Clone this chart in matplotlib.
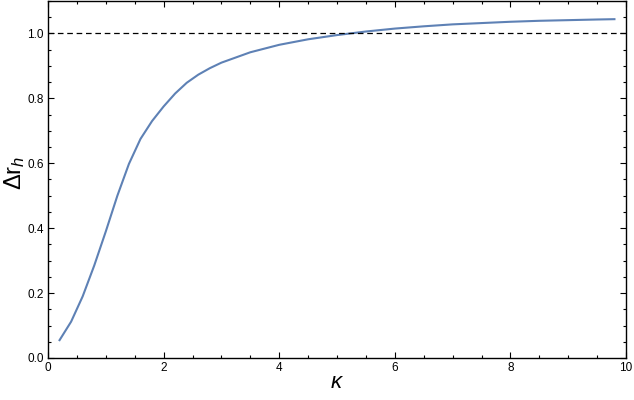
import numpy as np
import matplotlib.pyplot as plt
from matplotlib.ticker import MultipleLocator

# curve
kappa = [0.2, 0.4, 0.6, 0.8, 1.0, 1.2, 1.4, 1.6, 1.8, 2.0, 2.2, 2.4, 2.6, 2.8,
         3.0, 3.5, 4.0, 4.5, 5.0, 5.5, 6.0, 6.5, 7.0, 7.5, 8.0, 8.5, 9.0, 9.5, 9.8]
delta_rh = [0.055, 0.112, 0.19, 0.285, 0.39, 0.5, 0.598, 0.675, 0.73, 0.775,
            0.815, 0.848, 0.873, 0.893, 0.91, 0.942, 0.965, 0.982, 0.995, 1.006,
            1.015, 1.022, 1.028, 1.032, 1.036, 1.039, 1.041, 1.043, 1.044]
ref_level = 1.0

plt.rcParams['font.family'] = ['Liberation Sans', 'DejaVu Sans']
plt.rcParams['mathtext.fontset'] = 'custom'
plt.rcParams['mathtext.rm'] = 'Liberation Sans'
plt.rcParams['mathtext.it'] = 'Liberation Sans:italic'

fig = plt.figure(figsize=(6.34, 4.0), dpi=100)
ax = fig.add_axes([48 / 634, 42 / 400, 578 / 634, 357 / 400])

ax.plot(kappa, delta_rh, color="#5E81B5", lw=1.5)
ax.axhline(ref_level, color="black", lw=0.9, ls=(0, (4.5, 3)))

ax.set_xlim(0, 10)
ax.set_ylim(0, 1.1)
ax.xaxis.set_major_locator(MultipleLocator(2))
ax.xaxis.set_minor_locator(MultipleLocator(0.5))
ax.yaxis.set_major_locator(MultipleLocator(0.2))
ax.yaxis.set_minor_locator(MultipleLocator(0.05))
ax.xaxis.set_major_formatter(lambda v, p: f"{v:.0f}")
ax.yaxis.set_major_formatter(lambda v, p: f"{v:.1f}")

ax.tick_params(which="both", direction="in", top=True, right=True,
               labelsize=8.5, colors="black", width=0.8)
ax.tick_params(which="major", length=4.5, pad=3)
ax.tick_params(which="minor", length=2.5)
for s in ax.spines.values():
    s.set_linewidth(1.0)

ax.set_xlabel(r"$\kappa$", fontsize=16)
ax.xaxis.set_label_coords(0.5, -0.04)
ax.set_ylabel(r"$\Delta\mathrm{r}_h$", fontsize=17)
ax.yaxis.set_label_coords(-0.036, 0.52)

fig.savefig("out.png", dpi=100)
